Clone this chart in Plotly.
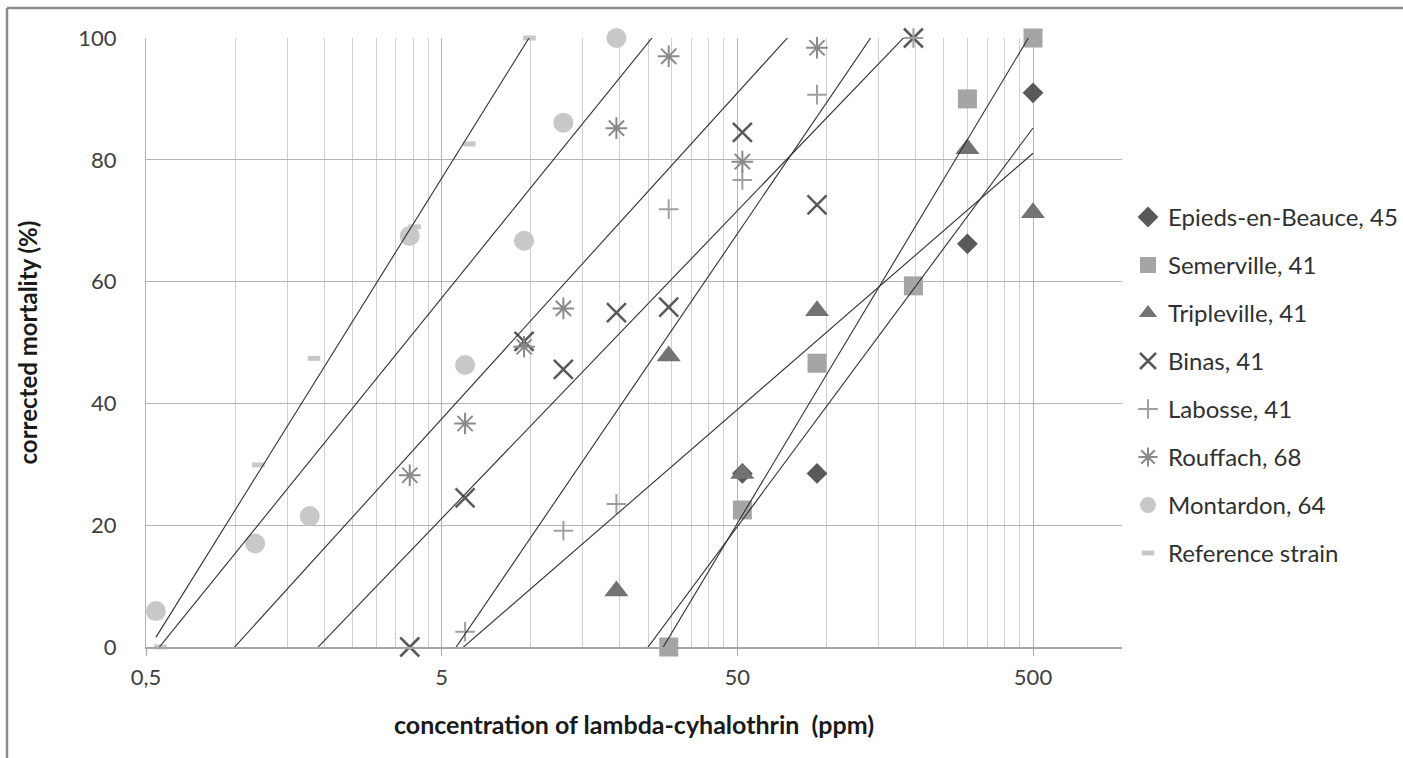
import numpy as np
import plotly.graph_objects as go

# ---------------- data ----------------
series_names = [
    "Epieds-en-Beauce, 45",
    "Semerville, 41",
    "Tripleville, 41",
    "Binas, 41",
    "Labosse, 41",
    "Rouffach, 68",
    "Montardon, 64",
    "Reference strain",
]

epieds_x = [52, 93, 300, 500]
epieds_y = [28.5, 28.5, 66.2, 91.0]

semerville_x = [29.3, 52, 93, 197, 300, 500]
semerville_y = [0, 22.5, 46.6, 59.3, 90.0, 100]

tripleville_x = [19.5, 29.3, 52, 93, 300, 500]
tripleville_y = [9.2, 47.8, 28.5, 55.2, 81.8, 71.3]

binas_x = [3.9, 6.0, 9.5, 12.9, 19.5, 29.3, 52, 93, 197]
binas_y = [0, 24.5, 50.2, 45.6, 54.9, 55.8, 84.5, 72.6, 100]

labosse_x = [6.0, 12.9, 19.5, 29.3, 52, 93, 197]
labosse_y = [2.5, 19.1, 23.5, 71.9, 76.7, 90.7, 100]

rouffach_x = [3.9, 6.0, 9.5, 12.9, 19.5, 29.3, 52, 93]
rouffach_y = [28.2, 36.7, 49.3, 55.6, 85.2, 97.0, 79.7, 98.4]

montardon_x = [0.54, 1.17, 1.79, 3.9, 6.0, 9.5, 12.9, 19.5]
montardon_y = [5.9, 17.0, 21.5, 67.5, 46.3, 66.7, 86.1, 100]

reference_x = [0.56, 1.2, 1.85, 4.05, 6.2, 9.9]
reference_y = [0, 29.9, 47.4, 69.0, 82.6, 100]

x_tick_vals = [0.5, 5, 50, 500]
x_tick_text = ["0,5", "5", "50", "500"]
y_tick_vals = [0, 20, 40, 60, 80, 100]
y_tick_text = ["0", "20", "40", "60", "80", "100"]

x_title = "concentration of lambda-cyhalothrin \u00a0(ppm)"
y_title = "corrected mortality (%)"

# ---------------- styles ----------------
all_x = [epieds_x, semerville_x, tripleville_x, binas_x,
         labosse_x, rouffach_x, montardon_x, reference_x]
all_y = [epieds_y, semerville_y, tripleville_y, binas_y,
         labosse_y, rouffach_y, montardon_y, reference_y]

marker_styles = [
    dict(symbol="diamond", size=16, color="#595959", line=dict(width=0)),
    dict(symbol="square", size=19, color="#a5a5a5", line=dict(width=0)),
    dict(symbol="triangle-up", size=21, color="#737373", line=dict(width=0)),
    dict(symbol="x-thin-open", size=19, color="#595959",
         line=dict(width=2.5, color="#595959")),
    dict(symbol="cross-thin-open", size=14, color="#a0a0a0",
         line=dict(width=2, color="#a0a0a0")),
    dict(symbol="asterisk-open", size=18, color="#8a8a8a",
         line=dict(width=2, color="#8a8a8a")),
    dict(symbol="circle", size=20, color="#c8c8c8", line=dict(width=0)),
    dict(symbol="line-ew-open", size=9, color="#c8c8c8",
         line=dict(width=5, color="#c8c8c8")),
]

FONT = "Lato"
W, H = 1403, 758
ML, MR, MT, MB = 146, 281, 38, 111
PW, PH = W - ML - MR, H - MT - MB

fig = go.Figure()

for i, (name, xs, ys, ms) in enumerate(zip(series_names, all_x, all_y, marker_styles)):
    fig.add_trace(go.Scatter(
        x=xs, y=ys, mode="markers", name=name, marker=ms,
        legendgroup=f"g{i}", cliponaxis=False,
    ))

# logarithmic trendlines (least squares of y on ln x), over the chart's x range
x_lo = min(min(v) for v in all_x)
x_hi = max(max(v) for v in all_x)
for i, (xs, ys) in enumerate(zip(all_x, all_y)):
    a, b = np.polyfit(np.log(xs), ys, 1)
    tx = np.array([x_lo, x_hi])
    ty = a * np.log(tx) + b
    fig.add_trace(go.Scatter(
        x=tx, y=ty, mode="lines", showlegend=False, hoverinfo="skip",
        line=dict(color="#303030", width=1.1),
    ))

minor_vals = [0.5 * k * 10 ** n for n in range(0, 3) for k in range(2, 10)] + [1000]


def px_to_paper_x(px):
    return (px - ML) / PW


def px_to_paper_y(py):
    return (H - MB - py) / PH


LEG_FS = 24
item_h = 1.3 * LEG_FS + 3

fig.update_layout(
    width=W, height=H,
    margin=dict(l=ML, r=MR, t=MT, b=MB, pad=0, autoexpand=False),
    paper_bgcolor="white", plot_bgcolor="white",
    font=dict(family=FONT, size=22, color="#404040"),
    xaxis=dict(
        type="log", range=[np.log10(0.5), np.log10(1000)],
        tickmode="array", tickvals=x_tick_vals, ticktext=x_tick_text,
        ticks="outside", ticklen=7, tickwidth=1, tickcolor="#a6a6a6",
        showgrid=True, gridcolor="#b4b4b4", gridwidth=1,
        minor=dict(tickvals=minor_vals, showgrid=True, gridcolor="#d0d0d0",
                   gridwidth=1, ticks=""),
        showline=True, linecolor="#a6a6a6", linewidth=1.5,
        zeroline=False, ticklabelstandoff=3, automargin=False,
        tickfont=dict(family=FONT, size=22, color="#404040"),
    ),
    yaxis=dict(
        range=[0, 100], tickmode="array", tickvals=y_tick_vals, ticktext=y_tick_text,
        ticks="", showgrid=True, gridcolor="#b4b4b4", gridwidth=1,
        showline=True, linecolor="#b4b4b4", linewidth=1,
        zeroline=False, ticklabelstandoff=24, automargin=False,
        tickfont=dict(family=FONT, size=22, color="#404040"),
    ),
    legend=dict(
        x=px_to_paper_x(1128), xanchor="left",
        y=px_to_paper_y(217 - 5 - item_h / 2), yanchor="top",
        font=dict(family=FONT, size=LEG_FS, color="#303030"),
        tracegroupgap=48 - item_h, bgcolor="rgba(0,0,0,0)", borderwidth=0,
        traceorder="grouped",
    ),
    showlegend=True,
    annotations=[
        dict(text=x_title, x=0.5, y=0, xref="paper", yref="paper",
             xanchor="center", yanchor="middle", yshift=-(724 - (H - MB)),
             showarrow=False,
             font=dict(family=FONT, size=25, color="#1a1a1a", weight="bold")),
        dict(text=y_title, x=0, y=0.5, xref="paper", yref="paper",
             xanchor="center", yanchor="middle", xshift=27 - ML,
             textangle=-90, showarrow=False,
             font=dict(family=FONT, size=24, color="#1a1a1a", weight="bold")),
    ],
    shapes=[
        dict(type="line", xref="paper", yref="paper",
             x0=px_to_paper_x(7), x1=px_to_paper_x(7),
             y0=px_to_paper_y(8), y1=px_to_paper_y(H + 20),
             line=dict(color="#8c8c8c", width=2.5)),
        dict(type="line", xref="paper", yref="paper",
             x0=px_to_paper_x(7), x1=px_to_paper_x(W + 20),
             y0=px_to_paper_y(8), y1=px_to_paper_y(8),
             line=dict(color="#8c8c8c", width=2.5)),
    ],
)

fig.write_html("out.html", config={"displayModeBar": False},
               post_script="document.body.style.margin='0px';")
